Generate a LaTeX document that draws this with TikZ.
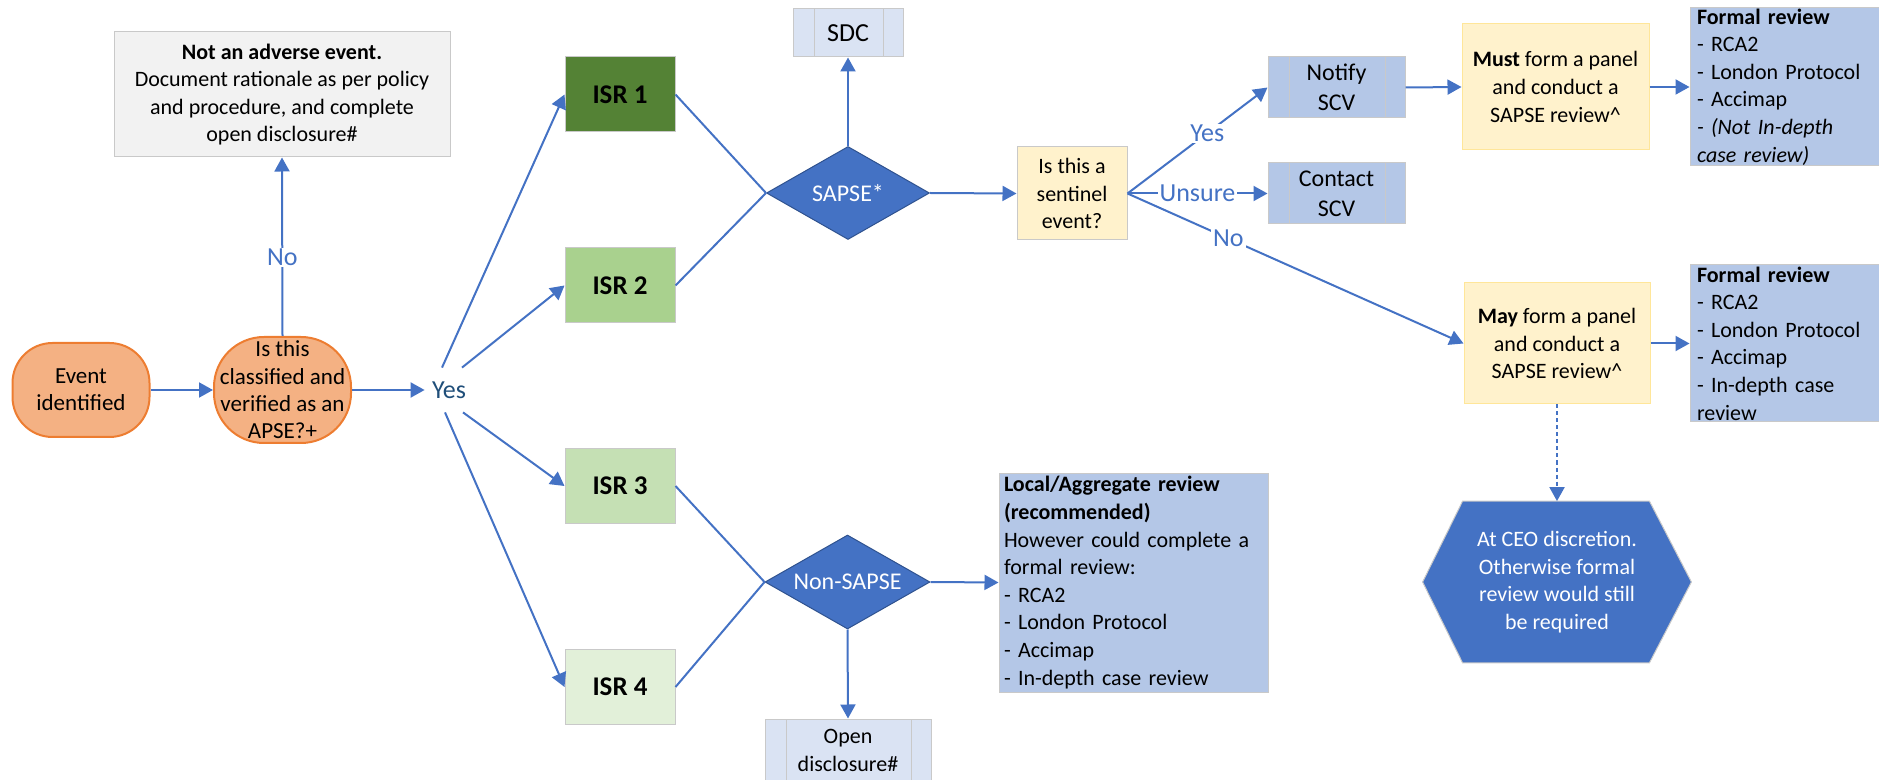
\documentclass[tikz,border=0pt]{standalone}
\usepackage{fontspec}
\setmainfont{Carlito}
\usetikzlibrary{arrows.meta,shapes.geometric,calc,backgrounds}
\definecolor{cOrange}{HTML}{F4B183}
\definecolor{cOrangeB}{HTML}{ED7D31}
\definecolor{cGrayF}{HTML}{F2F2F2}
\definecolor{cGrayB}{HTML}{C9C9C9}
\definecolor{cIsrA}{HTML}{548235}
\definecolor{cIsrB}{HTML}{A9D18E}
\definecolor{cIsrC}{HTML}{C5E0B4}
\definecolor{cIsrD}{HTML}{E2F0D9}
\definecolor{cLight}{HTML}{DAE3F3}
\definecolor{cMid}{HTML}{B4C7E7}
\definecolor{cYellow}{HTML}{FFF2CC}
\definecolor{cYellowB}{HTML}{FFE699}
\definecolor{cBlue}{HTML}{4472C4}
\definecolor{cBlueD}{HTML}{2F528F}
\definecolor{cYes}{HTML}{1F4E79}
\newcommand\fsz[2]{\fontsize{#1}{#2}\selectfont}
\begin{document}
\begin{tikzpicture}[x=0.5pt,y=-0.5pt,
  base/.style={draw, line width=0.5pt, align=center, inner sep=0pt, font=\fsz{11pt}{13.8pt}},
  orangebox/.style={base, fill=cOrange, draw=cOrangeB, line width=1pt, font=\fsz{11.5pt}{13.65pt}},
  isrbox/.style={base, draw=cGrayB, minimum width=55pt, minimum height=37.5pt, font=\fsz{13.5pt}{15pt}\bfseries},
  subproc/.style={base, draw=cGrayB, path picture={
     \draw[cGrayB, line width=0.5pt]
       ([xshift=10.5pt]path picture bounding box.north west) -- ([xshift=10.5pt]path picture bounding box.south west)
       ([xshift=-10pt]path picture bounding box.north east) -- ([xshift=-10pt]path picture bounding box.south east);}},
  dia/.style={diamond, aspect=1.75, fill=cBlue, draw=cBlueD, line width=0.5pt, inner sep=0pt,
     text=white, font=\fsz{12pt}{14pt}},
  listbox/.style={base, fill=cMid, draw=cGrayB, align=left, text width=93pt, inner xsep=3.5pt},
  conn/.style={draw=cBlue, line width=1pt},
  arr/.style={conn, -{Triangle[length=7pt,width=7.5pt]}},
  lbl/.style={fill=white, text=cBlue, font=\fsz{13pt}{15pt}, inner xsep=1pt, inner ysep=0.5pt}]
\useasboundingbox (0,0) rectangle (1879,780);
\clip (0,0) rectangle (1879,780);

% left part
\node[orangebox, minimum width=68.5pt, minimum height=47pt, rounded corners=20pt] (ev) at (81,390) {Event\\identified};
\node[orangebox, minimum width=68.5pt, minimum height=53pt, rounded corners=25pt] (cls) at (282.5,390) {Is this\\classified and\\verified as an\\APSE?+};
\node[base, fill=cGrayF, draw=cGrayB, minimum width=168pt, minimum height=62.5pt] (notadv) at (282,94.5)
  {\textbf{Not an adverse event.}\\Document rationale as per policy\\and procedure, and complete\\open disclosure\#};
\node[font=\fsz{13pt}{15pt}, text=cYes, minimum width=24pt, minimum height=22pt, inner sep=0pt] (yes) at (449,390) {Yes};

% ISR boxes
\node[isrbox, fill=cIsrA] (isr1) at (620,94.5) {ISR 1};
\node[isrbox, fill=cIsrB] (isr2) at (620,285.5) {ISR 2};
\node[isrbox, fill=cIsrC] (isr3) at (620,486) {ISR 3};
\node[isrbox, fill=cIsrD] (isr4) at (620,687) {ISR 4};

% SAPSE branch
\node[dia, minimum width=81.5pt, minimum height=46.5pt] (sapse) at (848,193) {SAPSE*};
\node[subproc, fill=cLight, minimum width=55pt, minimum height=24pt, font=\fsz{13pt}{15pt}] (sdc) at (848,33) {SDC};
\node[base, fill=cYellow, draw=cGrayB, minimum width=55pt, minimum height=46.5pt] (sent) at (1072,193.5) {Is this a\\sentinel\\event?};
\node[subproc, fill=cMid, minimum width=68.5pt, minimum height=30.5pt, font=\fsz{12pt}{15pt}] (notify) at (1336.5,87.5) {Notify\\SCV};
\node[subproc, fill=cMid, minimum width=68.5pt, minimum height=30.5pt, font=\fsz{12pt}{15pt}] (contact) at (1336.5,193.5) {Contact\\SCV};
\node[base, fill=cYellow, draw=cYellowB, minimum width=93.5pt, minimum height=63pt] (must) at (1555.5,87)
  {\textbf{Must} form a panel\\and conduct a\\SAPSE review\textasciicircum};
\node[listbox, minimum height=79pt] (formal1) at (1790,87)
  {\textbf{Formal review}\\- RCA2\\- London Protocol\\- Accimap\\\textit{- (Not In-depth}\\\textit{case review)}};
\node[base, fill=cYellow, draw=cYellowB, minimum width=93pt, minimum height=60.5pt] (may) at (1557,343.5)
  {\textbf{May} form a panel\\and conduct a\\SAPSE review\textasciicircum};
\node[listbox, minimum height=78.5pt] (formal2) at (1790,343.5)
  {\textbf{Formal review}\\- RCA2\\- London Protocol\\- Accimap\\- In-depth case\\review};
\node[align=center, inner sep=0pt, text=white, font=\fsz{11pt}{13.8pt}, minimum width=134pt, minimum height=80.5pt] (hex) at (1557,582)
  {At CEO discretion.\\Otherwise formal\\review would still\\be required};
\begin{scope}[on background layer]
  \filldraw[fill=cBlue, draw=cGrayB, line width=0.5pt]
    (hex.west) -- ([xshift=20pt]hex.north west) -- ([xshift=-21pt]hex.north east) -- (hex.east)
    -- ([xshift=-21pt]hex.south east) -- ([xshift=20pt]hex.south west) -- cycle;
\end{scope}

% Non-SAPSE branch
\node[dia, minimum width=82.5pt, minimum height=47pt] (nons) at (847.5,582) {Non-SAPSE};
\node[listbox, text width=129.5pt, inner xsep=2.5pt, minimum height=109.5pt] (local) at (1133.5,582.5)
  {\textbf{Local/Aggregate review}\\\textbf{(recommended)}\\However could complete a\\formal review:\\- RCA2\\- London Protocol\\- Accimap\\- In-depth case review};
\node[subproc, fill=cLight, minimum width=83pt, minimum height=31.5pt] (open) at (848,750.5) {Open\\disclosure\#};

% connectors
\draw[arr] (ev) -- (cls);
\draw[arr] (cls) -- (yes);
\draw[arr] (cls.north) -- node[lbl, pos=0.44] {No} (notadv.south);
\draw[arr] ($(yes.north)+(-7,0)$) -- (isr1.west);
\draw[arr] ($(yes.north)+(13,0)$) -- (isr2.west);
\draw[arr] ($(yes.south)+(14,0)$) -- (isr3.west);
\draw[arr] ($(yes.south)+(-4,0)$) -- (isr4.west);
\draw[conn] (isr1.east) -- (sapse.west);
\draw[conn] (isr2.east) -- (sapse.west);
\draw[conn] (isr3.east) -- (nons.west);
\draw[conn] (isr4.east) -- (nons.west);
\draw[arr] (sapse.north) -- (sdc.south);
\draw[arr] (sapse.east) -- (sent.west);
\draw[arr] (sent.east) -- node[lbl, pos=0.57] {Yes} (notify.west);
\draw[arr] (sent.east) -- node[lbl, pos=0.5] {Unsure} (contact.west);
\draw[arr] (sent.east) -- node[lbl, pos=0.3] {No} (may.west);
\draw[arr] (notify.east) -- (must.west);
\draw[arr] (must.east) -- (formal1.west);
\draw[arr] (may.east) -- (formal2.west);
\draw[arr, dash pattern=on 2pt off 1.5pt] (may.south) -- (hex.north);
\draw[arr] (nons.east) -- (local.west);
\draw[arr] (nons.south) -- (open.north);
\end{tikzpicture}
\end{document}
